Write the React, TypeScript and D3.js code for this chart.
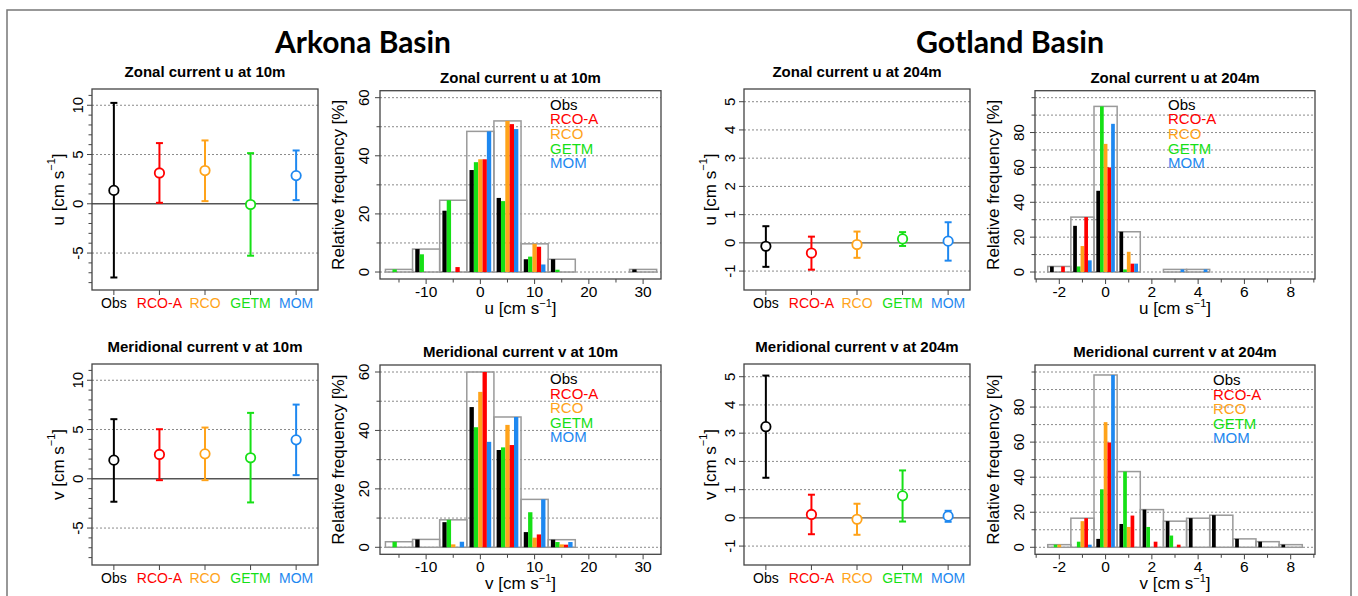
import React from "react";
import * as d3 from "d3";

const models = ["Obs", "RCO-A", "RCO", "GETM", "MOM"];
const modelColors = ["#000000", "#FF0000", "#FFA31A", "#16E016", "#1E88F0"];
const barDrawOrder = [0, 3, 2, 1, 4];

// Mean and error bar ends (cm/s)
const arkonaUMean = [1.36, 3.13, 3.37, -0.07, 2.86];
const arkonaULow = [-7.48, 0.1, 0.27, -5.27, 0.37];
const arkonaUHigh = [10.24, 6.16, 6.43, 5.14, 5.41];
const arkonaVMean = [1.89, 2.47, 2.53, 2.13, 3.95];
const arkonaVLow = [-2.33, -0.14, -0.14, -2.4, 0.37];
const arkonaVHigh = [6.05, 5.03, 5.2, 6.69, 7.53];
const gotlandUMean = [-0.12, -0.36, -0.06, 0.14, 0.06];
const gotlandULow = [-0.85, -0.95, -0.53, -0.11, -0.63];
const gotlandUHigh = [0.59, 0.22, 0.4, 0.38, 0.73];
const gotlandVMean = [3.23, 0.12, -0.05, 0.78, 0.06];
const gotlandVLow = [1.42, -0.58, -0.6, -0.13, -0.14];
const gotlandVHigh = [5.04, 0.82, 0.5, 1.68, 0.25];

// Histogram bins (centres) and relative frequencies [%], series in order of `models`
const arkonaBins = [-15, -10, -5, 0, 5, 10, 15, 20, 25, 30];
const gotlandBins = [-2, -1, 0, 1, 2, 3, 4, 5, 6, 7, 8];

const arkonaUHist = [
  [0, 7.9, 21.1, 35.1, 25.5, 4.4, 4.4, 0, 0, 0.9],
  [0, 0, 1.7, 38.8, 50.9, 8.7, 0, 0, 0, 0],
  [0, 0, 0, 38.8, 52.0, 9.7, 0, 0, 0, 0],
  [0.9, 6.1, 24.7, 37.8, 24.4, 5.3, 0.8, 0, 0, 0],
  [0, 0, 0, 48.4, 49.2, 2.6, 0, 0, 0, 0],
];
const arkonaVHist = [
  [0, 2.7, 8.6, 48.0, 33.3, 5.2, 2.6, 0, 0, 0],
  [0, 0, 0, 60.0, 35.0, 4.4, 0.9, 0, 0, 0],
  [0, 0, 1.0, 53.2, 41.9, 3.3, 1.0, 0, 0, 0],
  [1.9, 0, 9.4, 41.1, 34.2, 12.0, 1.8, 0, 0, 0],
  [0, 0, 1.9, 36.1, 44.6, 16.4, 1.8, 0, 0, 0],
];
const gotlandUHist = [
  [3.2, 26.5, 46.6, 23.1, 0, 0, 0, 0, 0, 0, 0],
  [3.2, 31.5, 60.0, 4.8, 0, 0, 0, 0, 0, 0, 0],
  [0, 14.9, 73.5, 11.6, 0, 0, 0, 0, 0, 0, 0],
  [0, 3.2, 95.0, 1.5, 0, 0, 0, 0, 0, 0, 0],
  [0, 6.7, 85.0, 4.8, 0, 1.5, 1.5, 0, 0, 0, 0],
];
const gotlandVHist = [
  [0, 0, 4.8, 13.3, 21.5, 14.9, 16.6, 18.3, 4.8, 3.2, 1.5],
  [0, 16.6, 59.8, 18.1, 3.2, 1.5, 0, 0, 0, 0, 0],
  [1.5, 14.9, 71.4, 11.6, 0, 0, 0, 0, 0, 0, 0],
  [1.5, 3.2, 33.1, 43.2, 11.6, 6.7, 0, 0, 0, 0, 0],
  [0, 1.5, 98.3, 0, 0, 0, 0, 0, 0, 0, 0],
];

// Tick labels
const arkonaEbTicks = [-5, 0, 5, 10];
const gotlandEbTicks = [-1, 0, 1, 2, 3, 4, 5];
const arkonaHistXTicks = [-10, 0, 10, 20, 30];
const gotlandHistXTicks = [-2, 0, 2, 4, 6, 8];
const arkonaHistYTicks = [0, 20, 40, 60];
const gotlandHistYTicks = [0, 20, 40, 60, 80];

const FONT = "'Liberation Sans', Arial, Helvetica, sans-serif";

function UnitLabel({ v }: { v: string }) {
  return (
    <>
      {v} [cm s
      <tspan dy={-7} fontSize={11}>
        −1
      </tspan>
      <tspan dy={7}>]</tspan>
    </>
  );
}

function ErrPanel(props: any) {
  const { box, yDomain, yTicks, yMinor, grid, means, lows, highs, title, ylab } = props;
  const [x0, x1, y0, y1] = box;
  const x = d3.scaleLinear().domain([0.52, 5.48]).range([x0, x1]);
  const y = d3.scaleLinear().domain(yDomain).range([y1, y0]);
  return (
    <g fontFamily={FONT}>
      {grid.map((v: number) => (
        <line key={"g" + v} x1={x0} x2={x1} y1={y(v)} y2={y(v)} stroke="#8a8a8a" strokeWidth={1} strokeDasharray="2,2" />
      ))}
      <line x1={x0} x2={x1} y1={y(0)} y2={y(0)} stroke="#555" strokeWidth={1.4} />
      {means.map((m: number, i: number) => {
        const c = modelColors[i];
        const cx = x(i + 1);
        return (
          <g key={"e" + i}>
            <line x1={cx} x2={cx} y1={y(highs[i])} y2={y(lows[i])} stroke={c} strokeWidth={2} />
            <line x1={cx - 3.5} x2={cx + 3.5} y1={y(highs[i])} y2={y(highs[i])} stroke={c} strokeWidth={2} />
            <line x1={cx - 3.5} x2={cx + 3.5} y1={y(lows[i])} y2={y(lows[i])} stroke={c} strokeWidth={2} />
            <circle cx={cx} cy={y(m)} r={4.7} fill="white" stroke={c} strokeWidth={1.8} />
          </g>
        );
      })}
      <rect x={x0} y={y0} width={x1 - x0} height={y1 - y0} fill="none" stroke="#444" strokeWidth={1.3} />
      {yMinor.map((v: number) => (
        <line key={"m" + v} x1={x0 - 3.5} x2={x0} y1={y(v)} y2={y(v)} stroke="#444" strokeWidth={1} />
      ))}
      {yTicks.map((v: number) => (
        <g key={"t" + v}>
          <line x1={x0 - 5} x2={x0} y1={y(v)} y2={y(v)} stroke="#444" strokeWidth={1} />
          <text
            transform={`translate(${x0 - 15},${y(v)}) rotate(-90)`}
            textAnchor="middle"
            dominantBaseline="central"
            fontSize={15}
          >
            {v}
          </text>
        </g>
      ))}
      {models.map((mname, i) => (
        <g key={"x" + i}>
          <line x1={x(i + 1)} x2={x(i + 1)} y1={y1} y2={y1 + 5} stroke="#444" strokeWidth={1} />
          <text x={x(i + 1)} y={y1 + 13} textAnchor="middle" dominantBaseline="central" fontSize={14} fill={modelColors[i]}>
            {mname}
          </text>
        </g>
      ))}
      <text x={(x0 + x1) / 2} y={y0 - 12} textAnchor="middle" fontSize={15} fontWeight="bold">
        {title}
      </text>
      <text
        transform={`translate(${x0 - 34},${(y0 + y1) / 2}) rotate(-90)`}
        textAnchor="middle"
        dominantBaseline="central"
        fontSize={17}
      >
        <UnitLabel v={ylab} />
      </text>
    </g>
  );
}

function HistPanel(props: any) {
  const { box, xDomain, yDomain, bins, binWidth, series, xTicks, xMinor, yTicks, yMinor, yGrid, title, xlab, legendDx, legendDy } =
    props;
  const [x0, x1, y0, y1] = box;
  const x = d3.scaleLinear().domain(xDomain).range([x0, x1]);
  const y = d3.scaleLinear().domain(yDomain).range([y1, y0]);
  const boxes = bins.map((_: number, j: number) => d3.max(series, (s: number[]) => s[j]) as number);
  const bw = binWidth * 0.16;
  return (
    <g fontFamily={FONT}>
      {yGrid.map((v: number) => (
        <line key={"g" + v} x1={x0} x2={x1} y1={y(v)} y2={y(v)} stroke="#8a8a8a" strokeWidth={1} strokeDasharray="2,2" />
      ))}
      {bins.map((c: number, j: number) =>
        boxes[j] > 0 ? (
          <rect
            key={"b" + j}
            x={x(c - binWidth / 2)}
            y={y(boxes[j])}
            width={x(c + binWidth / 2) - x(c - binWidth / 2)}
            height={y(0) - y(boxes[j])}
            fill="none"
            stroke="#9a9a9a"
            strokeWidth={1.5}
          />
        ) : null
      )}
      {bins.map((c: number, j: number) =>
        barDrawOrder.map((si, k) => {
          const v = series[si][j];
          if (!(v > 0)) return null;
          const left = c - binWidth * 0.4 + k * bw;
          return (
            <rect
              key={"r" + j + "_" + k}
              x={x(left)}
              y={y(v)}
              width={x(left + bw) - x(left)}
              height={y(0) - y(v)}
              fill={modelColors[si]}
            />
          );
        })
      )}
      <rect x={x0} y={y0} width={x1 - x0} height={y1 - y0} fill="none" stroke="#444" strokeWidth={1.3} />
      {yMinor.map((v: number) => (
        <line key={"ym" + v} x1={x0 - 3.5} x2={x0} y1={y(v)} y2={y(v)} stroke="#444" strokeWidth={1} />
      ))}
      {yTicks.map((v: number) => (
        <g key={"yt" + v}>
          <line x1={x0 - 5} x2={x0} y1={y(v)} y2={y(v)} stroke="#444" strokeWidth={1} />
          <text
            transform={`translate(${x0 - 17},${y(v)}) rotate(-90)`}
            textAnchor="middle"
            dominantBaseline="central"
            fontSize={15}
          >
            {v}
          </text>
        </g>
      ))}
      {xMinor.map((v: number) => (
        <line key={"xm" + v} x1={x(v)} x2={x(v)} y1={y1} y2={y1 + 3.5} stroke="#444" strokeWidth={1} />
      ))}
      {xTicks.map((v: number) => (
        <g key={"xt" + v}>
          <line x1={x(v)} x2={x(v)} y1={y1} y2={y1 + 5} stroke="#444" strokeWidth={1} />
          <text x={x(v)} y={y1 + 12} textAnchor="middle" dominantBaseline="central" fontSize={15.5}>
            {v}
          </text>
        </g>
      ))}
      <text x={(x0 + x1) / 2} y={y0 - 8} textAnchor="middle" fontSize={15} fontWeight="bold">
        {title}
      </text>
      <text x={(x0 + x1) / 2} y={y1 + 35} textAnchor="middle" fontSize={17}>
        <UnitLabel v={xlab} />
      </text>
      <text
        transform={`translate(${x0 - 42},${(y0 + y1) / 2}) rotate(-90)`}
        textAnchor="middle"
        dominantBaseline="central"
        fontSize={17}
      >
        Relative frequency [%]
      </text>
      {models.map((mname, i) => (
        <text key={"l" + i} x={x0 + legendDx} y={y0 + legendDy + i * 14.6} fontSize={15} fill={modelColors[i]}>
          {mname}
        </text>
      ))}
    </g>
  );
}

export default function App() {
  const row1Eb = [89, 290];
  const row2Eb = [364, 565];
  const row1H = [90.7, 279];
  const row2H = [365, 554.3];
  const colEb1 = [92, 318];
  const colH1 = [380, 661];
  const colEb2 = [744, 970];
  const colH2 = [1035, 1315];
  const arkEbDomain = [-8.75, 11.65];
  const gotEbDomain = [-1.67, 5.45];
  const arkHX = [-18.5, 33.3];
  const gotHX = [-3.05, 9.05];
  const arkHY = [-2.4, 62.4];
  const gotHY = [-4, 104];
  const arkMinorY = d3.range(-8, 12).filter((v) => v % 5 !== 0);
  const arkHistMinorX = [-15, -5, 5, 15, 25];
  const gotHistMinorX = [-3, -1, 1, 3, 5, 7, 9];
  const arkHistMinorY = [10, 30, 50];
  const gotHistMinorY = [10, 30, 50, 70, 90, 100];
  const arkHistGrid = d3.range(0, 61, 10);
  const gotHistGrid = d3.range(0, 101, 10);

  return (
    <svg width={1358} height={596} style={{ position: "absolute", left: 0, top: 0, background: "white" }}>
      <rect x={0} y={0} width={1358} height={596} fill="white" />
      <rect x={7} y={10} width={1344} height={620} fill="none" stroke="#777" strokeWidth={1.5} />
      <text x={363} y={53} textAnchor="middle" fontFamily="Lato, 'Open Sans', sans-serif" fontWeight="bold" fontSize={30} textLength={176} lengthAdjust="spacingAndGlyphs">
        Arkona Basin
      </text>
      <text x={1010} y={53} textAnchor="middle" fontFamily="Lato, 'Open Sans', sans-serif" fontWeight="bold" fontSize={30} textLength={188} lengthAdjust="spacingAndGlyphs">
        Gotland Basin
      </text>

      <ErrPanel box={[colEb1[0], colEb1[1], row1Eb[0], row1Eb[1]]} yDomain={arkEbDomain} yTicks={arkonaEbTicks} yMinor={arkMinorY}
        grid={[-5, 5, 10]} means={arkonaUMean} lows={arkonaULow} highs={arkonaUHigh} title="Zonal current u at 10m" ylab="u" />
      <ErrPanel box={[colEb1[0], colEb1[1], row2Eb[0], row2Eb[1]]} yDomain={arkEbDomain} yTicks={arkonaEbTicks} yMinor={arkMinorY}
        grid={[-5, 5, 10]} means={arkonaVMean} lows={arkonaVLow} highs={arkonaVHigh} title="Meridional current v at 10m" ylab="v" />
      <ErrPanel box={[colEb2[0], colEb2[1], row1Eb[0], row1Eb[1]]} yDomain={gotEbDomain} yTicks={gotlandEbTicks} yMinor={[]}
        grid={[-1, 1, 2, 3, 4, 5]} means={gotlandUMean} lows={gotlandULow} highs={gotlandUHigh} title="Zonal current u at 204m" ylab="u" />
      <ErrPanel box={[colEb2[0], colEb2[1], row2Eb[0], row2Eb[1]]} yDomain={gotEbDomain} yTicks={gotlandEbTicks} yMinor={[]}
        grid={[-1, 1, 2, 3, 4, 5]} means={gotlandVMean} lows={gotlandVLow} highs={gotlandVHigh} title="Meridional current v at 204m" ylab="v" />

      <HistPanel box={[colH1[0], colH1[1], row1H[0], row1H[1]]} xDomain={arkHX} yDomain={arkHY} bins={arkonaBins} binWidth={5}
        series={arkonaUHist} xTicks={arkonaHistXTicks} xMinor={arkHistMinorX} yTicks={arkonaHistYTicks} yMinor={arkHistMinorY}
        yGrid={arkHistGrid} title="Zonal current u at 10m" xlab="u" legendDx={170} legendDy={19} />
      <HistPanel box={[colH1[0], colH1[1], row2H[0], row2H[1]]} xDomain={arkHX} yDomain={arkHY} bins={arkonaBins} binWidth={5}
        series={arkonaVHist} xTicks={arkonaHistXTicks} xMinor={arkHistMinorX} yTicks={arkonaHistYTicks} yMinor={arkHistMinorY}
        yGrid={arkHistGrid} title="Meridional current v at 10m" xlab="v" legendDx={170} legendDy={19} />
      <HistPanel box={[colH2[0], colH2[1], row1H[0], row1H[1]]} xDomain={gotHX} yDomain={gotHY} bins={gotlandBins} binWidth={1}
        series={gotlandUHist} xTicks={gotlandHistXTicks} xMinor={gotHistMinorX} yTicks={gotlandHistYTicks} yMinor={gotHistMinorY}
        yGrid={gotHistGrid} title="Zonal current u at 204m" xlab="u" legendDx={133} legendDy={19} />
      <HistPanel box={[colH2[0], colH2[1], row2H[0], row2H[1]]} xDomain={gotHX} yDomain={gotHY} bins={gotlandBins} binWidth={1}
        series={gotlandVHist} xTicks={gotlandHistXTicks} xMinor={gotHistMinorX} yTicks={gotlandHistYTicks} yMinor={gotHistMinorY}
        yGrid={gotHistGrid} title="Meridional current v at 204m" xlab="v" legendDx={178} legendDy={20} />
    </svg>
  );
}
